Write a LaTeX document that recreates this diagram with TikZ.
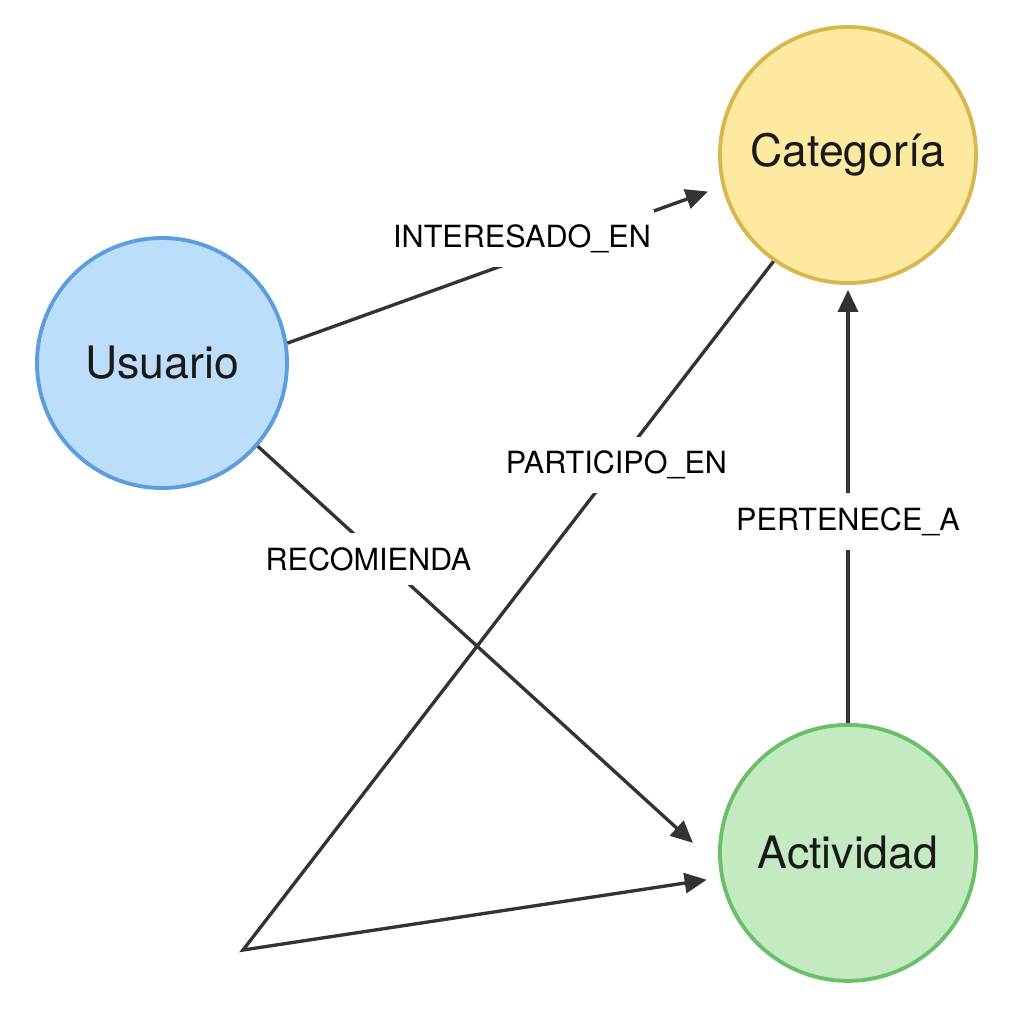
\documentclass[tikz,border=0pt]{standalone}
\usepackage{fontspec}
\setmainfont{TeX Gyre Heros}
\usetikzlibrary{positioning,arrows.meta}
\definecolor{usuariofill}{HTML}{BDDEFB}
\definecolor{usuariodraw}{HTML}{5C9DE0}
\definecolor{categoriafill}{HTML}{FDE9A0}
\definecolor{categoriadraw}{HTML}{D8B84C}
\definecolor{actividadfill}{HTML}{C3EAC1}
\definecolor{actividaddraw}{HTML}{6BBF69}
\definecolor{edgegray}{HTML}{333333}
\tikzset{
  entidad/.style  = { circle, line width=1.1pt, minimum size=2.56cm, inner sep=0pt,
                      font=\fontsize{12.7}{14}\selectfont, text=black!90 },
  relacion/.style = { draw=edgegray, line width=0.95pt,
                      -{Triangle[length=0.22cm, width=0.2cm]} },
  etiqueta/.style = { fill=white, inner xsep=0.03cm, inner ysep=0.14cm,
                      font=\fontsize{8.7}{10}\selectfont, text=black }
}

\begin{document}
\begin{tikzpicture}
  [node distance=4.38cm]
  \useasboundingbox[fill=white] (0,0) rectangle (10.24,-10.24);
  % the three entities
  \node[entidad, fill=usuariofill, draw=usuariodraw, minimum size=2.5cm]
      (usuario) at (1.62,-3.63) {Usuario};
  \node[entidad, fill=categoriafill, draw=categoriadraw]
      (categoria) at (8.48,-1.55) {Categoría};
  \node[entidad, fill=actividadfill, draw=actividaddraw]
      (actividad) [below=of categoria] {Actividad};
  \coordinate (vuelta) at (2.43,-9.50);
  % the relations, labels sit on white boxes that break the line
  \draw[relacion, shorten >=0.15cm] (usuario.9) --
      node[etiqueta, pos=0.54, yshift=0.2cm] {INTERESADO\_EN} (categoria.194.5);
  \draw[relacion, shorten >=0.35cm] (usuario.-41.5) --
      node[etiqueta, pos=0.24, yshift=-0.12cm] {RECOMIENDA} (actividad.186);
  %% this one runs down to the corner and back
  \draw[relacion, shorten >=0.14cm] (categoria.235) --
      node[etiqueta, pos=0.296] {PARTICIPO\_EN} (vuelta) -- (actividad.191);
  \draw[relacion, shorten >=0.05cm] (actividad.north) --
      node[etiqueta, pos=0.46] {PERTENECE\_A} (categoria.south);
\end{tikzpicture}
\end{document}
